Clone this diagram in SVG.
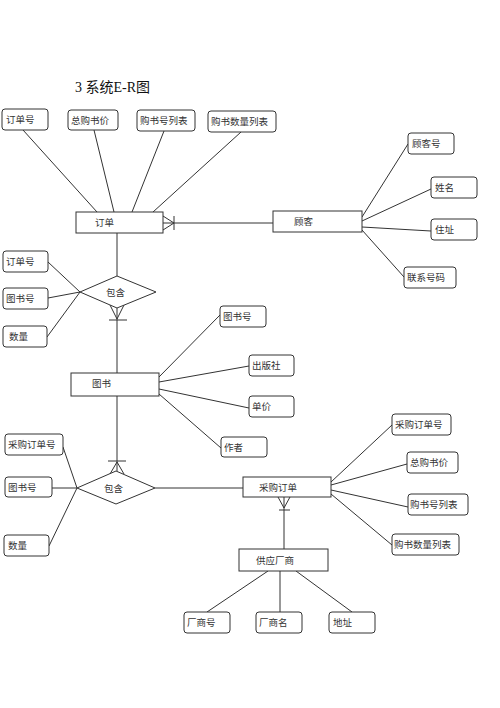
<svg xmlns="http://www.w3.org/2000/svg" width="500" height="708" viewBox="0 0 500 708">
<style>
.attr{fill:#fff;stroke:#333;stroke-width:1}
.ent{fill:#fff;stroke:#333;stroke-width:1}
.ln{stroke:#333;stroke-width:1;fill:none}
text{font-family:"Noto Sans CJK SC",sans-serif;font-size:9.5px;fill:#333}
.title{font-family:"Liberation Serif","Noto Sans CJK SC",serif;font-size:14px;fill:#111}
</style>
<rect width="500" height="708" fill="#fff"/>
<text class="title" x="75" y="92">3 系统E-R图</text>
<g id="connectors">
<line class="ln" x1="23" y1="130" x2="97" y2="212"/>
<line class="ln" x1="94" y1="130" x2="114" y2="212"/>
<line class="ln" x1="164" y1="131" x2="132" y2="212"/>
<line class="ln" x1="241" y1="132" x2="153" y2="212"/>
<line class="ln" x1="163" y1="223" x2="274" y2="223"/>
<polyline class="ln" points="163,216 174,223 163,230"/>
<line class="ln" x1="174" y1="216" x2="174" y2="230"/>
<line class="ln" x1="362" y1="217" x2="408" y2="144"/>
<line class="ln" x1="362" y1="221" x2="431" y2="189"/>
<line class="ln" x1="362" y1="227" x2="431" y2="231"/>
<line class="ln" x1="362" y1="230" x2="404" y2="277"/>
<line class="ln" x1="117" y1="233" x2="117" y2="276"/>
<line class="ln" x1="48" y1="262" x2="80" y2="292"/>
<line class="ln" x1="48" y1="298" x2="80" y2="292"/>
<line class="ln" x1="47" y1="337" x2="80" y2="292"/>
<polyline class="ln" points="110,305 117,319 124,305"/>
<line class="ln" x1="109" y1="320" x2="127" y2="320"/>
<line class="ln" x1="117" y1="308" x2="117" y2="373"/>
<line class="ln" x1="159" y1="377" x2="220" y2="315"/>
<line class="ln" x1="159" y1="382" x2="249" y2="366"/>
<line class="ln" x1="159" y1="389" x2="249" y2="408"/>
<line class="ln" x1="159" y1="394" x2="221" y2="448"/>
<line class="ln" x1="117" y1="396" x2="117" y2="471"/>
<line class="ln" x1="108" y1="461" x2="126" y2="461"/>
<polyline class="ln" points="110,474 117,462 124,474"/>
<line class="ln" x1="63" y1="447" x2="77" y2="488"/>
<line class="ln" x1="52" y1="488" x2="77" y2="488"/>
<line class="ln" x1="49" y1="546" x2="77" y2="488"/>
<line class="ln" x1="155" y1="488" x2="243" y2="488"/>
<line class="ln" x1="331" y1="482" x2="392" y2="425"/>
<line class="ln" x1="331" y1="485" x2="407" y2="464"/>
<line class="ln" x1="331" y1="490" x2="408" y2="507"/>
<line class="ln" x1="331" y1="494" x2="392" y2="545"/>
<polyline class="ln" points="278,497 284,508 290,497"/>
<line class="ln" x1="279" y1="510" x2="290" y2="510"/>
<line class="ln" x1="284" y1="497" x2="284" y2="549"/>
<line class="ln" x1="268" y1="571" x2="207" y2="612"/>
<line class="ln" x1="280" y1="571" x2="280" y2="612"/>
<line class="ln" x1="296" y1="571" x2="352" y2="612"/>
</g>
<g id="order"><rect class="ent" x="76" y="212" width="87" height="21"/><text x="95" y="226">订单</text></g>
<g id="order-no"><rect class="attr" x="2" y="109" width="46" height="21" rx="3"/><text x="6" y="123">订单号</text></g>
<g id="order-total"><rect class="attr" x="68" y="110" width="50" height="20" rx="3"/><text x="71" y="124">总购书价</text></g>
<g id="order-booklist"><rect class="attr" x="137" y="110" width="58" height="21" rx="3"/><text x="140" y="124">购书号列表</text></g>
<g id="order-qtylist"><rect class="attr" x="208" y="111" width="68" height="21" rx="3"/><text x="211" y="125">购书数量列表</text></g>
<g id="customer"><rect class="ent" x="273" y="211" width="89" height="21"/><text x="294" y="225">顾客</text></g>
<g id="cust-no"><rect class="attr" x="408" y="133" width="46" height="21" rx="3"/><text x="412" y="147">顾客号</text></g>
<g id="cust-name"><rect class="attr" x="431" y="177" width="46" height="21" rx="3"/><text x="435" y="191">姓名</text></g>
<g id="cust-addr"><rect class="attr" x="431" y="219" width="46" height="21" rx="3"/><text x="435" y="233">住址</text></g>
<g id="cust-phone"><rect class="attr" x="404" y="267" width="52" height="21" rx="3"/><text x="407" y="281">联系号码</text></g>
<g id="contains1"><polygon class="ent" points="80,292 117,276 156,292 117,308"/><text x="106" y="296">包含</text></g>
<g id="c1-order-no"><rect class="attr" x="3" y="251" width="45" height="21" rx="3"/><text x="6" y="265">订单号</text></g>
<g id="c1-book-no"><rect class="attr" x="3" y="288" width="45" height="21" rx="3"/><text x="6" y="302">图书号</text></g>
<g id="c1-qty"><rect class="attr" x="3" y="326" width="44" height="21" rx="3"/><text x="9" y="340">数量</text></g>
<g id="book"><rect class="ent" x="71" y="373" width="88" height="23"/><text x="92" y="387">图书</text></g>
<g id="book-no"><rect class="attr" x="220" y="306" width="46" height="21" rx="3"/><text x="223" y="320">图书号</text></g>
<g id="book-pub"><rect class="attr" x="249" y="355" width="45" height="21" rx="3"/><text x="252" y="369">出版社</text></g>
<g id="book-price"><rect class="attr" x="249" y="396" width="45" height="21" rx="3"/><text x="252" y="410">单价</text></g>
<g id="book-author"><rect class="attr" x="221" y="437" width="46" height="20" rx="3"/><text x="224" y="451">作者</text></g>
<g id="contains2"><polygon class="ent" points="77,488 116,471 155,488 116,504"/><text x="104" y="492">包含</text></g>
<g id="c2-po-no"><rect class="attr" x="5" y="434" width="58" height="21" rx="3"/><text x="8" y="448">采购订单号</text></g>
<g id="c2-book-no"><rect class="attr" x="5" y="477" width="47" height="20" rx="3"/><text x="8" y="491">图书号</text></g>
<g id="c2-qty"><rect class="attr" x="4" y="535" width="45" height="21" rx="3"/><text x="8" y="549">数量</text></g>
<g id="purchase-order"><rect class="ent" x="243" y="477" width="88" height="20"/><text x="259" y="491">采购订单</text></g>
<g id="po-no"><rect class="attr" x="392" y="414" width="59" height="21" rx="3"/><text x="395" y="428">采购订单号</text></g>
<g id="po-total"><rect class="attr" x="407" y="452" width="51" height="21" rx="3"/><text x="410" y="466">总购书价</text></g>
<g id="po-booklist"><rect class="attr" x="408" y="494" width="60" height="21" rx="3"/><text x="410" y="508">购书号列表</text></g>
<g id="po-qtylist"><rect class="attr" x="392" y="534" width="67" height="21" rx="3"/><text x="394" y="548">购书数量列表</text></g>
<g id="supplier"><rect class="ent" x="239" y="549" width="89" height="22"/><text x="256" y="564">供应厂商</text></g>
<g id="sup-no"><rect class="attr" x="184" y="612" width="46" height="21" rx="3"/><text x="187" y="626">厂商号</text></g>
<g id="sup-name"><rect class="attr" x="256" y="612" width="46" height="21" rx="3"/><text x="259" y="626">厂商名</text></g>
<g id="sup-addr"><rect class="attr" x="329" y="612" width="46" height="21" rx="3"/><text x="333" y="626">地址</text></g>
</svg>
